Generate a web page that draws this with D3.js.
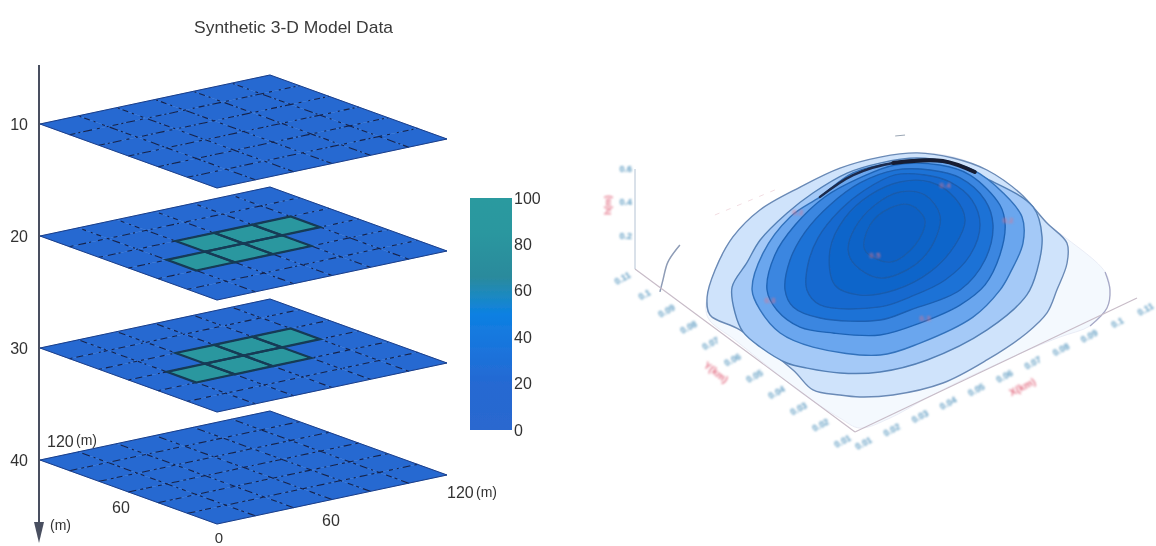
<!DOCTYPE html>
<html><head><meta charset="utf-8"><script src="https://cdn.jsdelivr.net/npm/d3@7/dist/d3.min.js"></script>
<style>html,body{margin:0;background:#fff}svg{display:block}text{font-family:"Liberation Sans",Arial,sans-serif}</style></head>
<body><svg id="c" width="1156" height="546"></svg>
<script>
// ---- left panel data ----
const title = "Synthetic 3-D Model Data";
const depths = [10, 20, 30, 40];
const xEdges = [0, 20, 40, 60, 80, 100, 120];
const yEdges = [0, 20, 40, 60, 80, 100, 120];
const lowRow = [12, 12, 12, 12, 12, 12];
const blockFront = [12, 85, 85, 85, 12, 12];
const blockBack = [12, 12, 85, 85, 85, 12];
const layerLow = [lowRow, lowRow, lowRow, lowRow, lowRow, lowRow];
const layerBlock = [lowRow, lowRow, blockFront, blockBack, lowRow, lowRow];
const layers = [layerLow, layerBlock, layerBlock, layerLow];
const barTicks = [0, 20, 40, 60, 80, 100];
const barStops = [0, 20, 35, 50, 58, 66, 85, 100];
const barColors = ["#2a68cf", "#2569d2", "#1a74dc", "#0d80e2", "#1c89c0", "#2b8a9c", "#2a979f", "#2a9a9f"];

// ---- right panel data (metres in plan, km on tick labels) ----
const axisTicks = [10, 20, 30, 40, 50, 60, 70, 80, 90, 100, 110];
const axisTickLabels = ["0.01", "0.02", "0.03", "0.04", "0.05", "0.06", "0.07", "0.08", "0.09", "0.1", "0.11"];
const zTicks = [0.2, 0.4, 0.6];
const R0 = [[110.7,25.4],[106.5,17.8],[100.6,11.6],[91.7,7.9],[82.0,9.1],[72.0,9.9],[59.8,10.2],[47.6,10.4],[34.7,9.9],[21.6,9.0],[12.2,10.6],[10.8,17.9],[9.8,34.7],[10.3,49.0],[10.9,65.7],[11.5,78.7],[17.4,86.7],[40.5,104.6],[69.6,111.3],[104.8,103.3],[114.9,84.5],[112.4,54.0]];
const R1 = [[17.4,86.7],[27.0,95.4],[40.5,104.6],[54.2,109.9],[69.6,111.3],[83.7,111.3],[95.6,108.3],[104.8,103.3],[111.1,95.0],[114.9,84.5],[115.3,70.0],[112.4,54.0],[110.9,43.0],[105.1,35.5],[95.0,27.2],[86.2,20.4],[76.0,16.5],[59.5,13.5],[43.3,12.7],[29.0,17.1],[21.3,22.2],[17.5,26.5],[13.2,33.2],[14.7,44.2],[14.9,68.6],[12.8,79.5]];
const R2 = [[25.7,86.0],[35.9,92.4],[45.5,98.6],[59.2,103.9],[70.6,106.8],[83.8,108.2],[93.8,106.1],[103.3,101.4],[109.0,93.7],[112.2,81.9],[114.1,62.5],[107.3,49.7],[96.6,38.2],[87.1,30.7],[68.3,24.7],[46.6,24.1],[32.9,28.0],[24.0,34.7],[18.3,42.4],[15.4,47.9],[14.3,58.6],[15.0,67.3],[18.8,75.8]];
const R3 = [[29.2,81.4],[42.3,93.2],[58.7,101.9],[71.0,104.1],[85.1,107.2],[96.7,103.8],[107.7,95.3],[111.9,87.0],[111.7,73.0],[108.8,60.7],[101.4,50.8],[89.9,41.9],[82.7,37.3],[69.0,32.0],[50.0,31.7],[37.9,34.3],[25.7,49.2],[22.7,60.3],[25.1,72.5]];
const R4 = [[32.4,78.7],[44.3,90.4],[57.4,98.0],[72.0,103.2],[85.1,104.1],[96.5,102.7],[106.2,94.7],[109.8,85.6],[107.5,69.1],[102.8,60.7],[92.9,50.4],[81.0,41.9],[69.7,38.8],[55.8,39.2],[43.7,41.8],[34.1,50.9],[28.7,59.0],[28.7,69.5]];
const R5 = [[36.3,75.5],[46.1,85.8],[57.5,93.6],[70.8,99.3],[83.7,102.2],[95.0,100.8],[102.6,94.6],[106.8,86.3],[105.7,73.6],[100.2,62.9],[88.2,51.2],[74.1,44.4],[57.5,45.8],[48.1,47.4],[35.7,58.8],[33.1,67.7]];
const R6 = [[48.5,80.8],[58.6,89.1],[71.5,95.6],[82.7,98.7],[93.6,99.0],[100.1,93.6],[103.4,86.6],[102.9,75.9],[97.4,65.2],[86.5,55.7],[73.8,50.8],[61.2,50.7],[51.9,52.3],[39.5,63.7],[41.0,71.6]];
const R7 = [[57.7,82.5],[70.2,91.8],[82.3,95.9],[92.6,95.5],[99.1,90.1],[99.8,79.7],[95.6,69.7],[86.1,62.1],[72.9,56.5],[60.0,56.0],[51.0,60.3],[48.5,68.5]];
const R8 = [[61.6,79.3],[69.5,86.3],[80.5,91.3],[89.7,91.7],[94.2,86.2],[91.6,76.0],[83.3,67.6],[71.7,61.8],[60.3,63.1],[58.7,72.4]];
const R9 = [[73.6,84.7],[82.9,87.5],[88.1,85.1],[86.9,76.8],[77.5,69.2],[67.1,67.3],[65.2,76.3]];
const rings = [R0, R1, R2, R3, R4, R5, R6, R7, R8, R9];
const ringFills = ["#f4f9fe", "#cfe3fb", "#a4c9f7", "#6ba6ee", "#3a86e0", "#1f72d6", "#1569cf", "#1165ca", "#0f63c7", "#0e61c4"];
const ringLines = ["#e6e9f4", "#6a8ab6", "#5480b6", "#3272bc", "#1f64b6", "#1a5fb2", "#1a5db0", "#195cae", "#185bac", "#185bac"];
const ridge = [[71.0,104.1],[84.5,106.4],[96.7,103.8],[108.0,95.7],[111.7,85.9]];
const ridgeCore = [[96.7,103.8],[108.0,95.7],[111.7,85.9]];
const sideArc = [[26.7,111.0],[19.2,106.8],[12.8,100.9],[8.7,97.0]];
const backDashes = [[[105,113.5],[107.4,112.1]], [[43,116],[63.3,114.7]]];
const contourLabels = [[61.8,102.4,"0.2"],[104.9,62.1,"0.2"],[30.1,74.4,"0.3"],[58.4,40.2,"0.3"],[101.5,86.3,"0.4"],[65.9,72.6,"0.5"]];

const svg = d3.select("#c");
const defs = svg.append("defs");
const blur = (id, s) => defs.append("filter").attr("id", id).attr("filterUnits", "userSpaceOnUse")
  .attr("x", 0).attr("y", 0).attr("width", 1156).attr("height", 546)
  .append("feGaussianBlur").attr("stdDeviation", s);
blur("soft", 0.6);
blur("softer", 0.75);
blur("softest", 1.05);

const color = d3.scaleLinear().domain(barStops).range(barColors);

// ---- left panel ----
const L = svg.append("g").attr("filter", "url(#soft)");
L.append("text").attr("x", 293.5).attr("y", 33).attr("text-anchor", "middle").attr("font-size", 17)
  .attr("textLength", 199).attr("lengthAdjust", "spacingAndGlyphs").attr("fill", "#3a3a3a").text(title);

const ax = d3.scaleLinear().domain([0, 120]).range([0, 230]);
const ay = d3.scaleLinear().domain([0, 120]).range([0, 64]);
const bx = d3.scaleLinear().domain([0, 120]).range([0, 177]);
const by = d3.scaleLinear().domain([0, 120]).range([0, 49]);
const depth = d3.scaleLinear().domain([10, 40]).range([188, 524]);
const px = (x, y) => 217 + ax(x) - bx(y);
const py = (x, y, d) => depth(d) - by(x) - ay(y);
const poly = (pts) => "M" + pts.map(p => p.join(",")).join("L") + "Z";

depths.forEach((d, di) => {
  const g = L.append("g");
  const cells = [];
  layers[di].forEach((row, j) => row.forEach((v, i) => cells.push({i, j, v})));
  const cellPath = c => {
    const x0 = xEdges[c.i], x1 = xEdges[c.i + 1], y0 = yEdges[c.j], y1 = yEdges[c.j + 1];
    return poly([[x0,y0],[x1,y0],[x1,y1],[x0,y1]].map(p => [px(p[0],p[1]), py(p[0],p[1],d)]));
  };
  g.selectAll("path.cell").data(cells).join("path").attr("class", "cell")
    .attr("fill", c => color(c.v)).attr("stroke", c => color(c.v)).attr("stroke-width", 0.4).attr("d", cellPath);
  const dash = ["6 3 2 3 9 5 3 7 2 4", "4 5 8 3 2 7 5 4 2 5", "3 4 7 5 5 6 2 3 4 4", "8 4 3 3 6 6 4 4 2 4"][di];
  yEdges.slice(1, -1).forEach(y => g.append("line")
    .attr("x1", px(0,y)).attr("y1", py(0,y,d)).attr("x2", px(120,y)).attr("y2", py(120,y,d))
    .attr("stroke", "#14224a").attr("stroke-width", 1.1).attr("stroke-dasharray", dash));
  xEdges.slice(1, -1).forEach(x => g.append("line")
    .attr("x1", px(x,0)).attr("y1", py(x,0,d)).attr("x2", px(x,120)).attr("y2", py(x,120,d))
    .attr("stroke", "#14224a").attr("stroke-width", 1.1).attr("stroke-dasharray", dash));
  g.selectAll("path.hi").data(cells.filter(c => c.v > 50)).join("path").attr("class", "hi")
    .attr("fill", "none").attr("stroke", "#173a55").attr("stroke-width", 2.2).attr("d", cellPath);
  g.append("path").attr("fill", "none").attr("stroke", "#1a3d88").attr("stroke-width", 1)
    .attr("d", poly([[0,0],[120,0],[120,120],[0,120]].map(p => [px(p[0],p[1]), py(p[0],p[1],d)])));
  L.append("text").attr("x", 28).attr("y", py(0,120,d) + 6).attr("text-anchor", "end")
    .attr("font-size", 16).attr("fill", "#333").text(d);
});

// depth axis
L.append("line").attr("x1", 39).attr("y1", 65).attr("x2", 39).attr("y2", 530).attr("stroke", "#4a4f60").attr("stroke-width", 2);
L.append("path").attr("fill", "#4a4f60").attr("d", d3.line()([[34,522],[44,522],[39,543]]) + "Z");

const axisText = [[47,447,"120","start",16],[76,445,"(m)","start",14],[121,513,"60","middle",16],[219,543,"0","middle",15],[331,526,"60","middle",16],[447,498,"120","start",16],[476,497,"(m)","start",14],[50,530,"(m)","start",14]];
L.selectAll("text.a").data(axisText).join("text").attr("class", "a")
  .attr("x", d => d[0]).attr("y", d => d[1]).attr("text-anchor", d => d[3]).attr("font-size", d => d[4]).attr("fill", "#333").text(d => d[2]);

// colour bar
const barY = d3.scaleLinear().domain([0, 100]).range([430, 198]);
const grad = defs.append("linearGradient").attr("id", "bar").attr("x1", 0).attr("y1", 1).attr("x2", 0).attr("y2", 0);
barStops.forEach(s => grad.append("stop").attr("offset", s / 100).attr("stop-color", color(s)));
L.append("rect").attr("x", 470).attr("y", barY(100)).attr("width", 42).attr("height", barY(0) - barY(100)).attr("fill", "url(#bar)");
const barAxis = L.append("g").attr("transform", "translate(512,0)").call(d3.axisRight(barY).tickValues(barTicks).tickSize(0).tickPadding(2));
barAxis.select(".domain").remove();
barAxis.selectAll("text").attr("font-size", 16).attr("fill", "#333").attr("font-family", "Liberation Sans");

// ---- right panel ----
const R = svg.append("g").attr("filter", "url(#softer)");
const T = svg.append("g").attr("filter", "url(#softest)");
const ux = d3.scaleLinear().domain([10, 110]).range([0, 282]);
const uy = d3.scaleLinear().domain([10, 110]).range([0, -134]);
const vx = d3.scaleLinear().domain([10, 110]).range([0, -220]);
const vy = d3.scaleLinear().domain([10, 110]).range([0, -163]);
const zs = d3.scaleLinear().domain([0, 0.6]).range([0, -100]);
const sx = (x, y) => 855 + ux(x) + vx(y);
const sy = (x, y, z = 0) => 432 + uy(x) + vy(y) + zs(z);

const closed = d3.line().x(d => sx(d[0], d[1])).y(d => sy(d[0], d[1])).curve(d3.curveCatmullRomClosed.alpha(0.5));
const open = d3.line().x(d => sx(d[0], d[1])).y(d => sy(d[0], d[1])).curve(d3.curveCatmullRom.alpha(0.5));

R.selectAll("path.ring").data(rings).join("path").attr("class", "ring")
  .attr("d", closed).attr("fill", (d, i) => ringFills[i]).attr("stroke", (d, i) => ringLines[i]).attr("stroke-width", (d, i) => i === 0 ? 0.8 : 1.4);
R.append("path").attr("d", open(R0.slice(0, 4))).attr("fill", "none").attr("stroke", "#a6a8c6").attr("stroke-width", 1.3);
R.append("path").attr("d", open(ridge)).attr("fill", "none").attr("stroke", "#1b2b4d").attr("stroke-width", 2.5).attr("stroke-linecap", "round");
R.append("path").attr("d", open(ridgeCore)).attr("fill", "none").attr("stroke", "#141d33").attr("stroke-width", 4).attr("stroke-linecap", "round");
R.append("path").attr("d", open(sideArc)).attr("fill", "none").attr("stroke", "#8e9cb6").attr("stroke-width", 1.5);
backDashes.forEach((b, i) => R.append("path").attr("d", open(b)).attr("fill", "none")
  .attr("stroke", i ? "#f2dde2" : "#9aa6b4").attr("stroke-width", 1).attr("stroke-dasharray", i ? "5 7" : null));

const axisColor = "#c8bcc8";
R.append("line").attr("x1", sx(10,10)).attr("y1", sy(10,10)).attr("x2", sx(110,10)).attr("y2", sy(110,10)).attr("stroke", axisColor).attr("stroke-width", 1.2);
R.append("line").attr("x1", sx(10,10)).attr("y1", sy(10,10)).attr("x2", sx(10,110)).attr("y2", sy(10,110)).attr("stroke", axisColor).attr("stroke-width", 1.2);
R.append("line").attr("x1", sx(10,110)).attr("y1", sy(10,110)).attr("x2", sx(10,110)).attr("y2", sy(10,110,0.6)).attr("stroke", "#b4c3d4").attr("stroke-width", 1);

const tickColor = "#5f9cc2";
axisTicks.forEach((t, i) => {
  T.append("text").attr("transform", `translate(${sx(t,10)+10},${sy(t,10)+14}) rotate(-28)`)
    .attr("text-anchor", "middle").attr("font-size", 9).attr("font-weight", "bold").attr("fill", tickColor).text(axisTickLabels[i]);
  T.append("text").attr("transform", `translate(${sx(10,t)-11},${sy(10,t)+12}) rotate(-28)`)
    .attr("text-anchor", "middle").attr("font-size", 9).attr("font-weight", "bold").attr("fill", tickColor).text(axisTickLabels[i]);
});
zTicks.forEach(t => T.append("text").attr("x", sx(10,110) - 3).attr("y", sy(10,110,t) + 3)
  .attr("text-anchor", "end").attr("font-size", 9).attr("font-weight", "bold").attr("fill", tickColor).text(t));

const red = "#e4768a";
T.append("text").attr("transform", "translate(611,205) rotate(-90)").attr("text-anchor", "middle").attr("font-size", 9).attr("font-weight", "bold").attr("fill", red).text("h(m)");
T.append("text").attr("transform", "translate(714,375) rotate(38)").attr("text-anchor", "middle").attr("font-size", 10).attr("font-weight", "bold").attr("fill", red).text("Y(km)");
T.append("text").attr("transform", "translate(1024,390) rotate(-27)").attr("text-anchor", "middle").attr("font-size", 10).attr("font-weight", "bold").attr("fill", red).text("X(km)");
T.selectAll("text.cl").data(contourLabels).join("text").attr("class", "cl")
  .attr("x", d => sx(d[0], d[1])).attr("y", d => sy(d[0], d[1]) + 3).attr("text-anchor", "middle")
  .attr("font-size", 8).attr("font-weight", "bold").attr("fill", red).attr("opacity", 0.8).text(d => d[2]);
</script></body></html>
